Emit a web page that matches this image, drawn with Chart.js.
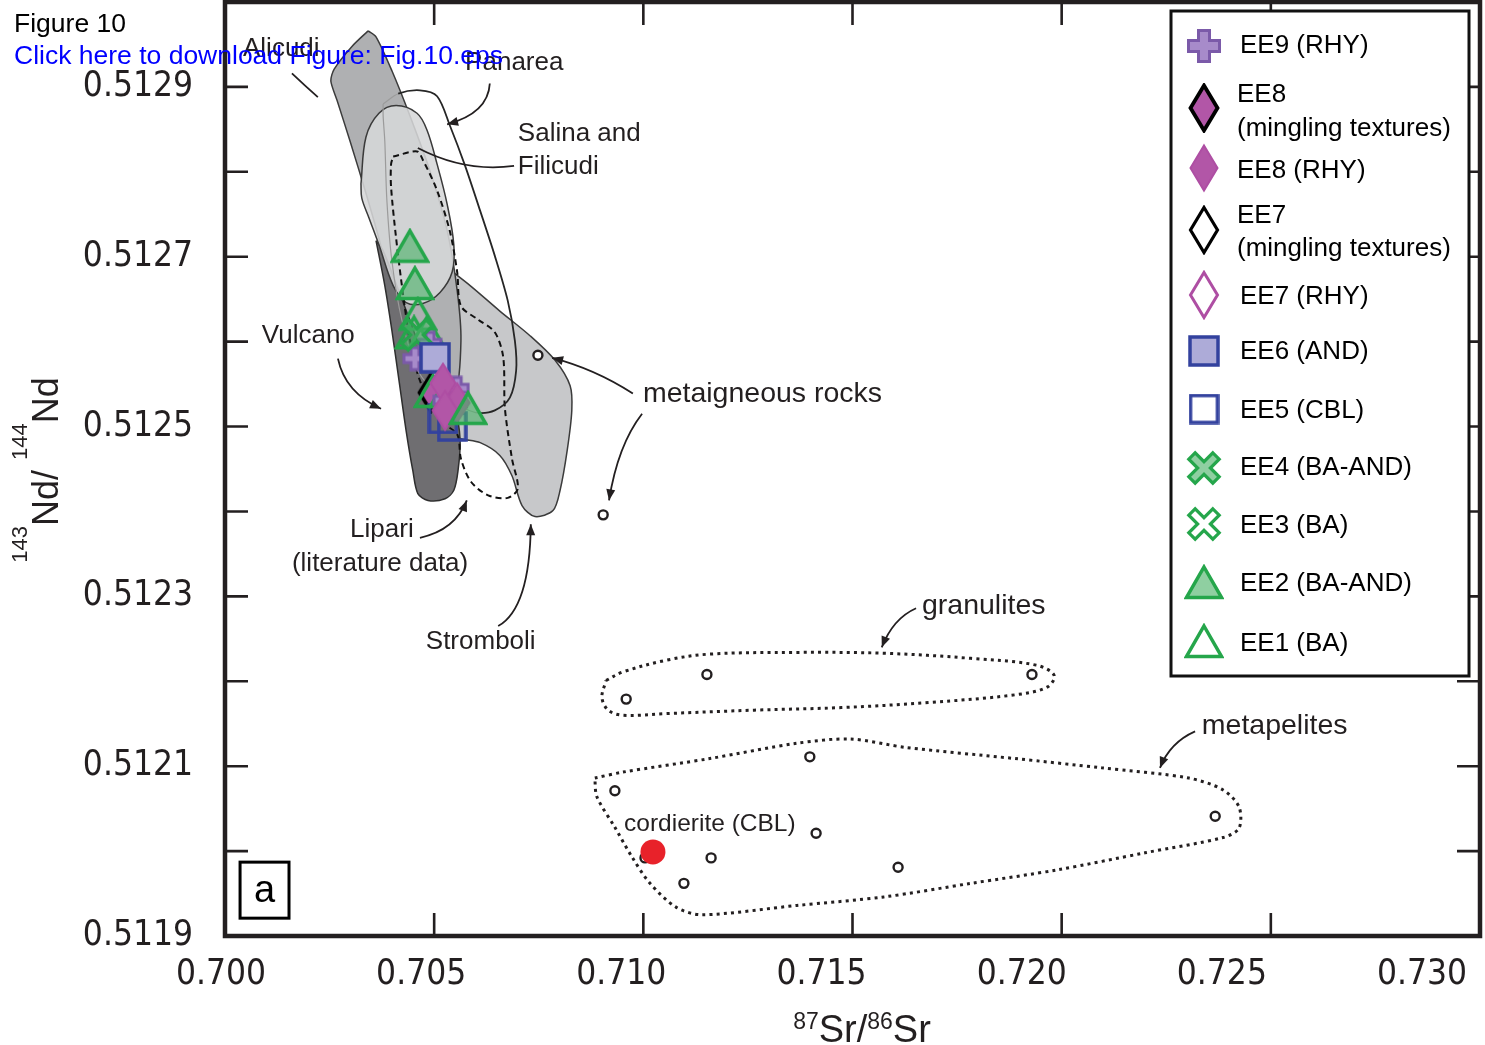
<!DOCTYPE html>
<html><head><meta charset="utf-8">
<script src="https://cdn.jsdelivr.net/npm/chart.js@4.4.1/dist/chart.umd.min.js"></script>
<style>
html,body{margin:0;padding:0;background:#fff;}
#wrap{position:relative;width:1485px;height:1045px;overflow:hidden;}
#c{position:absolute;left:0;top:0;}
.hdr{position:absolute;left:14px;font-family:'Liberation Sans',Arial,sans-serif;font-size:26.5px;line-height:30px;white-space:nowrap;}
#fig{top:8px;color:#000;}
#dl{top:40px;color:#0000ff;}
</style></head><body>
<div id="wrap"><canvas id="c" width="1485" height="1045"></canvas>
<div class="hdr" id="fig">Figure 10</div>
<div class="hdr" id="dl">Click here to download Figure: Fig.10.eps</div>
</div>
<script>
// ---------- axis ticks ----------
const xTicks = [0.700, 0.705, 0.710, 0.715, 0.720, 0.725, 0.730];
const yTicks = [0.5119, 0.5121, 0.5123, 0.5125, 0.5127, 0.5129];
const yMinorTicks = [0.5120, 0.5121, 0.5122, 0.5123, 0.5124, 0.5125, 0.5126, 0.5127, 0.5128, 0.5129];

// ---------- sample series (87Sr/86Sr, 143Nd/144Nd) ----------
const ee1 = [[0.70461,0.512633],[0.70483,0.512611],[0.70452,0.512611],[0.70497,0.512542],[0.70533,0.512542]];
const ee2 = [[0.70442,0.512713],[0.70454,0.512669],[0.70581,0.512522]];
const ee3 = [];
const ee4 = [[0.70459,0.512608]];
const ee5 = [[0.70521,0.512509],[0.70543,0.512500]];
const ee6 = [[0.70502,0.512581]];
const ee7 = [];
const ee7m = [];
const ee8 = [[0.70521,0.512551],[0.70555,0.512528],[0.70526,0.512519]];
const ee8m = [[0.70492,0.512540]];
const ee9 = [[0.70454,0.512580],[0.70555,0.512545],[0.70526,0.512531],[0.70490,0.512598]];
const metaigneous = [[0.70748,0.512584],[0.70904,0.512396]];
const granulites = [[0.70959,0.512179],[0.71152,0.512208],[0.71929,0.512208]];
const metapelites = [[0.70932,0.512071],[0.71398,0.512111],[0.72367,0.512041],[0.71413,0.512021],[0.71162,0.511992],[0.71609,0.511981],[0.71097,0.511962],[0.71004,0.511992]];
const cordierite = [[0.71023,0.511999]];

// ---------- literature fields (outlines) ----------
const alicudiField = [[0.70342,0.512966],[0.70361,0.512959],[0.70399,0.512919],[0.70442,0.512866],[0.70490,0.512801],[0.70531,0.512731],[0.70555,0.512660],[0.70564,0.512601],[0.70550,0.512536],[0.70514,0.512528],[0.70473,0.512554],[0.70430,0.512613],[0.70394,0.512672],[0.70366,0.512725],[0.70335,0.512778],[0.70299,0.512836],[0.70268,0.512884],[0.70253,0.512907],[0.70261,0.512921],[0.70304,0.512948]];
const vulcanoField = [[0.70361,0.512719],[0.70382,0.512666],[0.70399,0.512613],[0.70416,0.512554],[0.70433,0.512495],[0.70449,0.512448],[0.70461,0.512421],[0.70485,0.512413],[0.70526,0.512415],[0.70547,0.512425],[0.70557,0.512448],[0.70562,0.512484],[0.70550,0.512519],[0.70514,0.512548],[0.70478,0.512578],[0.70442,0.512625],[0.70406,0.512672],[0.70378,0.512707]];
const stromboliField = [[0.70526,0.512689],[0.70586,0.512666],[0.70657,0.512636],[0.70729,0.512607],[0.70789,0.512578],[0.70825,0.512548],[0.70829,0.512519],[0.70818,0.512472],[0.70801,0.512425],[0.70784,0.512401],[0.70741,0.512394],[0.70710,0.512407],[0.70686,0.512442],[0.70657,0.512466],[0.70610,0.512481],[0.70562,0.512486],[0.70526,0.512495],[0.70502,0.512554],[0.70509,0.512648]];
const salinaField = [[0.70325,0.512786],[0.70337,0.512841],[0.70368,0.512869],[0.70409,0.512878],[0.70459,0.512869],[0.70483,0.512849],[0.70507,0.512809],[0.70531,0.512762],[0.70547,0.512714],[0.70543,0.512682],[0.70514,0.512658],[0.70473,0.512645],[0.70433,0.512646],[0.70402,0.512666],[0.70368,0.512714],[0.70344,0.512746],[0.70327,0.512769]];
const lipariField = [[0.70402,0.512818],[0.70459,0.512824],[0.70473,0.512814],[0.70507,0.512778],[0.70538,0.512729],[0.70555,0.512682],[0.70564,0.512642],[0.70605,0.512626],[0.70645,0.512611],[0.70665,0.512582],[0.70669,0.512522],[0.70686,0.512462],[0.70700,0.512427],[0.70676,0.512416],[0.70629,0.512419],[0.70588,0.512435],[0.70564,0.512462],[0.70555,0.512491],[0.70514,0.512507],[0.70466,0.512554],[0.70442,0.512602],[0.70425,0.512658],[0.70409,0.512722],[0.70397,0.512782],[0.70397,0.512809]];
const panareaField = [[0.70378,0.512880],[0.70414,0.512892],[0.70466,0.512896],[0.70507,0.512889],[0.70538,0.512854],[0.70574,0.512807],[0.70610,0.512754],[0.70645,0.512701],[0.70676,0.512648],[0.70693,0.512601],[0.70696,0.512566],[0.70681,0.512534],[0.70645,0.512519],[0.70605,0.512516],[0.70574,0.512521],[0.70514,0.512536],[0.70461,0.512566],[0.70423,0.512625],[0.70399,0.512695],[0.70387,0.512766],[0.70382,0.512836],[0.70378,0.512866]];
const granuliteOutline = [[0.70911,0.512201],[0.70951,0.512211],[0.71057,0.512225],[0.71159,0.512232],[0.71367,0.512234],[0.71575,0.512233],[0.71783,0.512227],[0.71939,0.512219],[0.71982,0.512207],[0.71965,0.512193],[0.71888,0.512184],[0.71681,0.512175],[0.71473,0.512169],[0.71265,0.512166],[0.71057,0.512162],[0.70951,0.512160],[0.70916,0.512166],[0.70901,0.512181]];
const metapeliteOutline = [[0.70884,0.512086],[0.70951,0.512093],[0.71159,0.512109],[0.71367,0.512127],[0.71494,0.512132],[0.71628,0.512122],[0.71888,0.512109],[0.72096,0.512098],[0.72304,0.512086],[0.72386,0.512072],[0.72424,0.512052],[0.72424,0.512027],[0.72386,0.512016],[0.72199,0.511998],[0.71991,0.511978],[0.71783,0.511962],[0.71575,0.511946],[0.71367,0.511936],[0.71140,0.511925],[0.71078,0.511934],[0.71016,0.511962],[0.70973,0.511993],[0.70932,0.512028],[0.70889,0.512064]];

// ---------- annotations (data coordinates) ----------
const noteTexts = ['Alicudi','Panarea','Salina and','Filicudi','Vulcano','metaigneous rocks','Lipari','(literature data)','Stromboli','granulites','metapelites'];
const noteX = [0.70043,0.70574,0.70700,0.70700,0.70088,0.70999,0.70299,0.70160,0.70480,0.71666,0.72335];
const noteY = [0.512945,0.512928,0.512845,0.512806,0.512607,0.512538,0.512378,0.512338,0.512247,0.512289,0.512147];
const noteSize = [26,26,26,26,26,28.5,26,26,26,28.5,28.5];
// leader curves: start, control, end, arrowhead
const leaders = [
  [[0.70160,0.512916],[0.70190,0.512902],[0.70222,0.512888],0],
  [[0.70633,0.512904],[0.70629,0.512869],[0.70531,0.512856],1],
  [[0.70691,0.512807],[0.70574,0.512799],[0.70461,0.512828],0],
  [[0.70270,0.512580],[0.70287,0.512540],[0.70373,0.512521],1],
  [[0.70975,0.512539],[0.70884,0.512568],[0.70782,0.512581],1],
  [[0.70997,0.512515],[0.70939,0.512478],[0.70918,0.512413],1],
  [[0.70466,0.512369],[0.70550,0.512378],[0.70578,0.512413],1],
  [[0.70653,0.512265],[0.70729,0.512286],[0.70731,0.512385],1],
  [[0.71652,0.512286],[0.71597,0.512274],[0.71570,0.512240],1],
  [[0.72319,0.512141],[0.72259,0.512128],[0.72235,0.512098],1]
];

// ---------- legend ----------
const legendLines = [['EE9 (RHY)'],['EE8','(mingling textures)'],['EE8 (RHY)'],['EE7','(mingling textures)'],['EE7 (RHY)'],['EE6 (AND)'],['EE5 (CBL)'],['EE4 (BA-AND)'],['EE3 (BA)'],['EE2 (BA-AND)'],['EE1 (BA)']];

// ---------- marker images ----------
const GREEN='#25a64b', GREENF='rgba(74,178,104,0.62)', BLUE='#33429e', LAV='#adabd8', MAG='#ae4ea3', MAGF='#b256a7', PUR='#7b5aa9', PURF='#a78bca';
function mk(w,h,fn){const c=document.createElement('canvas');c.width=w;c.height=h;const g=c.getContext('2d');fn(g,w,h);return c;}
function tri(fill){return mk(40,36,(g,w,h)=>{g.beginPath();g.moveTo(w/2,3);g.lineTo(w-2.5,h-2.5);g.lineTo(2.5,h-2.5);g.closePath();if(fill){g.fillStyle=fill;g.fill();}g.lineWidth=3.5;g.strokeStyle=GREEN;g.lineJoin='miter';g.stroke();});}
function sq(fill,s){return mk(s,s,(g,w,h)=>{if(fill){g.fillStyle=fill;g.fillRect(2,2,w-4,h-4);}g.lineWidth=3.5;g.strokeStyle=BLUE;g.strokeRect(2,2,w-4,h-4);});}
function dia(fill,stroke,lw,w0,h0){return mk(w0||32,h0||50,(g,w,h)=>{g.beginPath();g.moveTo(w/2,2.5);g.lineTo(w-2.5,h/2);g.lineTo(w/2,h-2.5);g.lineTo(2.5,h/2);g.closePath();if(fill){g.fillStyle=fill;g.fill();}g.lineWidth=lw;g.strokeStyle=stroke;g.lineJoin='miter';g.stroke();});}
function plusPath(g,cx,cy,L,t,rot){const p=[[-t,-L],[t,-L],[t,-t],[L,-t],[L,t],[t,t],[t,L],[-t,L],[-t,t],[-L,t],[-L,-t],[-t,-t]];g.beginPath();p.forEach((q,i)=>{const c=Math.cos(rot),s=Math.sin(rot);const x=cx+q[0]*c-q[1]*s,y=cy+q[0]*s+q[1]*c;i?g.lineTo(x,y):g.moveTo(x,y);});g.closePath();}
function plus(s,L,t){return mk(s,s,(g,w,h)=>{plusPath(g,s/2,s/2,L,t,0);g.fillStyle=PURF;g.fill();g.lineWidth=3;g.strokeStyle=PUR;g.stroke();});}
function cross(fill){return mk(38,38,(g,w,h)=>{plusPath(g,19,19,17,4.5,Math.PI/4);g.fillStyle=fill;g.fill();g.lineWidth=3.2;g.strokeStyle=GREEN;g.stroke();});}
const M = {
  ee9: plus(36,15.5,5.5), ee8m: dia(MAGF,'#000',3.8), ee8: dia(MAGF,MAG,2), ee7m: dia('#fff','#000',3.2), ee7: dia('#fff',MAG,3),
  ee6: sq(LAV,32), ee5: sq(null,31), ee4: cross('rgba(74,178,104,0.62)'), ee3: cross('#fff'), ee2: tri(GREENF), ee1: tri(null)
};
const ee9Small = plus(26,11,4);
const ee8Plot = dia(MAGF,MAG,2,30,44);
const ee8mPlot = dia(MAGF,'#000',3.5,28,42);
const legendMarkers = [M.ee9,M.ee8m,M.ee8,M.ee7m,M.ee7,M.ee6,M.ee5,M.ee4,M.ee3,M.ee2,M.ee1];

const closeLoop = a => a.concat([a[0]]);
function field(label,data,opt){return Object.assign({type:'line',label,data:closeLoop(data),pointRadius:0,borderWidth:1.5,borderColor:'#3b3b3b',backgroundColor:'rgba(0,0,0,0)',fill:false,tension:0.3},opt);}
function pts(label,data,style,order,extra){return Object.assign({type:'scatter',label,data,pointStyle:style,pointRadius:12,order},extra||{});}

const FONT_TXT = "'Liberation Sans', Arial, Helvetica, sans-serif";
const FONT_TICK = "'Liberation Sans Narrow', 'Arial Narrow', 'DejaVu Sans Condensed', sans-serif";
const noPad = s => { s.paddingLeft = 0; s.paddingRight = 0; s.paddingTop = 0; s.paddingBottom = 0; };

const decor = {
  id:'decor',
  afterDatasetsDraw(chart){
    const {ctx, chartArea:a, scales:{x,y}} = chart;
    const X=v=>x.getPixelForValue(v), Y=v=>y.getPixelForValue(v);
    ctx.save();
    // leaders
    ctx.strokeStyle='#231f20'; ctx.fillStyle='#231f20'; ctx.lineWidth=1.8;
    leaders.forEach(([s,c,e,head])=>{
      const sx=X(s[0]),sy=Y(s[1]),cx=X(c[0]),cy=Y(c[1]),ex=X(e[0]),ey=Y(e[1]);
      ctx.beginPath();ctx.moveTo(sx,sy);ctx.quadraticCurveTo(cx,cy,ex,ey);ctx.stroke();
      if(head){const ang=Math.atan2(ey-cy,ex-cx);const L=11,W=4.5;
        ctx.beginPath();ctx.moveTo(ex,ey);
        ctx.lineTo(ex-L*Math.cos(ang)+W*Math.sin(ang),ey-L*Math.sin(ang)-W*Math.cos(ang));
        ctx.lineTo(ex-L*Math.cos(ang)-W*Math.sin(ang),ey-L*Math.sin(ang)+W*Math.cos(ang));
        ctx.closePath();ctx.fill();}
    });
    // labels
    ctx.textBaseline='middle'; ctx.textAlign='left';
    noteTexts.forEach((t,i)=>{ctx.font=noteSize[i]+'px '+FONT_TXT;ctx.fillText(t,X(noteX[i]),Y(noteY[i]));});
    ctx.font='24.5px '+FONT_TXT;
    ctx.fillText('cordierite (CBL)',X(0.70954),Y(0.512032));
    // panel label
    const bx=X(0.70036),by=Y(0.511987),bw=X(0.70153)-bx,bh=Y(0.511921)-by;
    ctx.fillStyle='#fff';ctx.fillRect(bx,by,bw,bh);
    ctx.lineWidth=3;ctx.strokeStyle='#000';ctx.strokeRect(bx,by,bw,bh);
    ctx.fillStyle='#000';ctx.font='38px '+FONT_TXT;ctx.textAlign='center';ctx.textBaseline='middle';
    ctx.fillText('a',bx+bw/2,by+bh/2+1);
    // ticks
    ctx.strokeStyle='#231f20';ctx.lineWidth=2.6;
    ctx.beginPath();
    xTicks.slice(1,-1).forEach(v=>{const px=X(v);ctx.moveTo(px,a.bottom);ctx.lineTo(px,a.bottom-23);ctx.moveTo(px,a.top);ctx.lineTo(px,a.top+23);});
    yMinorTicks.forEach(v=>{const py=Y(v);ctx.moveTo(a.left,py);ctx.lineTo(a.left+23,py);ctx.moveTo(a.right,py);ctx.lineTo(a.right-23,py);});
    ctx.stroke();
    // frame
    ctx.lineWidth=4.5;ctx.strokeRect(a.left,a.top,a.right-a.left,a.bottom-a.top);
    // x tick labels (slightly compressed spacing, as in the original artwork)
    ctx.fillStyle='#231f20';ctx.font='35px '+FONT_TICK;ctx.textAlign='center';ctx.textBaseline='middle';
    xTicks.forEach(v=>{const px=X(v);ctx.fillText(v.toFixed(3),px-(px-a.left)*0.043-4,975);});
    // legend box
    ctx.fillStyle='#fff';ctx.fillRect(1171,11,298,665);
    ctx.lineWidth=3;ctx.strokeStyle='#111';ctx.strokeRect(1171,11,298,665);
    const rowY=[46,108,168,230,295,351,409,468,524,582,641];
    const textY=[[46],[95,129],[171],[216,249],[297],[352],[411],[468],[526],[584],[644]];
    ctx.fillStyle='#000';ctx.font='26px '+FONT_TXT;ctx.textAlign='left';ctx.textBaseline='middle';
    legendLines.forEach((lines,i)=>{
      const m=legendMarkers[i];ctx.drawImage(m,1204-m.width/2,rowY[i]-m.height/2);
      const tx=lines.length>1||i===2?1237:1240;
      lines.forEach((t,j)=>ctx.fillText(t,tx,textY[i][j]));
    });
    // axis titles
    ctx.fillStyle='#231f20';ctx.textBaseline='alphabetic';ctx.textAlign='left';
    const xParts=[['87',23,-13],['Sr/',38,0],['86',23,-13],['Sr',38,0]];
    let w=0;xParts.forEach(p=>{ctx.font=p[1]+'px '+FONT_TXT;w+=ctx.measureText(p[0]).width;});
    let cx=862-w/2;
    xParts.forEach(p=>{ctx.font=p[1]+'px '+FONT_TXT;ctx.fillText(p[0],cx,1042+p[2]);cx+=ctx.measureText(p[0]).width;});
    const yParts=[['143',22,-31],['Nd/ ',36,0],['144',22,-31],['Nd',36,0]];
    w=0;yParts.forEach(p=>{ctx.font=p[1]+'px '+FONT_TXT;w+=ctx.measureText(p[0]).width;});
    ctx.translate(58,470);ctx.rotate(-Math.PI/2);
    let cy=-w/2;
    yParts.forEach(p=>{ctx.font=p[1]+'px '+FONT_TXT;ctx.fillText(p[0],cy,p[2]);cy+=ctx.measureText(p[0]).width;});
    ctx.restore();
  }
};

const datasets = [
  field('Stromboli',stromboliField,{backgroundColor:'#c7c8ca',fill:'shape',order:100}),
  field('Alicudi',alicudiField,{backgroundColor:'#afb0b2',fill:'shape',order:99,tension:0.25}),
  field('Vulcano',vulcanoField,{backgroundColor:'#6f6e71',fill:'shape',order:98,borderColor:'#2e2e2e'}),
  field('Salina and Filicudi',salinaField,{backgroundColor:'rgba(214,215,216,0.88)',fill:'shape',order:97,borderColor:'#3a3a3a',tension:0.35}),
  field('Lipari',lipariField,{borderColor:'#111',borderWidth:2,borderDash:[6,4],order:96,tension:0.3}),
  field('Panarea',panareaField,{order:95,borderWidth:1.7,tension:0.3,segment:{borderColor:c=>(c.p0DataIndex===0||c.p0DataIndex>=13)?'#9b9b9b':'#262626',borderWidth:c=>(c.p0DataIndex===0||c.p0DataIndex>=13)?1.2:1.8}}),
  field('granulites',granuliteOutline,{borderColor:'#231f20',borderWidth:3,borderDash:[3,4.2],order:94,tension:0.35}),
  field('metapelites',metapeliteOutline,{borderColor:'#231f20',borderWidth:3,borderDash:[3,4.2],order:93,tension:0.3}),
  pts('metaigneous rocks',metaigneous,'circle',20,{pointRadius:4.5,borderWidth:2.4,borderColor:'#231f20',backgroundColor:'#fff'}),
  pts('granulites',granulites,'circle',20,{pointRadius:4.5,borderWidth:2.4,borderColor:'#231f20',backgroundColor:'#fff'}),
  pts('metapelites',metapelites,'circle',20,{pointRadius:4.5,borderWidth:2.4,borderColor:'#231f20',backgroundColor:'#fff'}),
  pts('cordierite (CBL)',cordierite,'circle',1,{pointRadius:12.5,borderWidth:0,backgroundColor:'#e8222a'}),
  pts('EE8 mingling',ee8m,ee8mPlot,13),
  pts('EE5 (CBL)',ee5,M.ee5,12),
  pts('EE1 (BA)',ee1,M.ee1,11),
  pts('EE9 (RHY)',ee9,ee9Small,10.5),
  pts('EE3 (BA)',ee3,M.ee3,10),
  pts('EE4 (BA-AND)',ee4,M.ee4,10),
  pts('EE7 mingling',ee7m,M.ee7m,9),
  pts('EE7 (RHY)',ee7,M.ee7,9),
  pts('EE6 (AND)',ee6,M.ee6,8),
  pts('EE8 (RHY)',ee8,ee8Plot,6),
  pts('EE2 (BA-AND)',ee2,M.ee2,4)
];

new Chart(document.getElementById('c'),{
  type:'scatter',
  data:{datasets},
  options:{
    responsive:false,animation:false,events:[],
    layout:{autoPadding:false,padding:{left:0,top:2,right:5,bottom:0}},
    plugins:{legend:{display:false},tooltip:{enabled:false}},
    scales:{
      x:{type:'linear',min:0.700,max:0.730,
        afterBuildTicks:s=>{s.ticks=xTicks.map(v=>({value:v}));},
        afterFit:s=>{s.height=109;noPad(s);},
        ticks:{display:false},
        grid:{display:false,drawTicks:false},border:{display:false}},
      y:{type:'linear',min:0.5119,max:0.5130,
        afterBuildTicks:s=>{s.ticks=yTicks.map(v=>({value:v}));},
        afterFit:s=>{s.width=225;noPad(s);},
        ticks:{callback:v=>v.toFixed(4),font:{family:FONT_TICK,size:35},color:'#231f20',padding:32,autoSkip:false},
        grid:{display:false,drawTicks:false},border:{display:false}}
    }
  },
  plugins:[decor]
});
</script>
</body></html>
